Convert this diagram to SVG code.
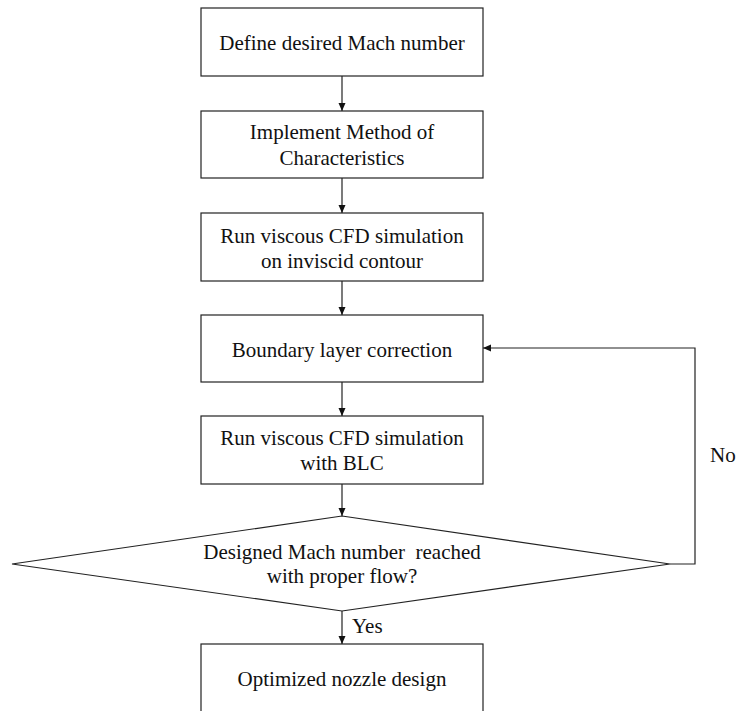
<svg xmlns="http://www.w3.org/2000/svg" width="739" height="711" viewBox="0 0 739 711">
<defs>
<style>
.box{fill:#fff;stroke:#222;stroke-width:1.2}
.t{font-family:"Liberation Serif","Times New Roman",serif;font-size:21px;fill:#111;text-anchor:middle}
.l{font-family:"Liberation Serif","Times New Roman",serif;font-size:21px;fill:#111}
.c{fill:none;stroke:#222;stroke-width:1.2}
</style>
<marker id="ah" markerWidth="8" markerHeight="8" refX="8" refY="4" orient="auto" markerUnits="userSpaceOnUse">
<path d="M0,0.5 L8,4 L0,7.5 Z" fill="#111"/>
</marker>
</defs>
<rect width="739" height="711" fill="#fff"/>
<g id="connectors">
<line class="c" x1="342" y1="76" x2="342" y2="111" marker-end="url(#ah)"/>
<line class="c" x1="342" y1="178" x2="342" y2="213" marker-end="url(#ah)"/>
<line class="c" x1="342" y1="281" x2="342" y2="315" marker-end="url(#ah)"/>
<line class="c" x1="342" y1="382" x2="342" y2="416" marker-end="url(#ah)"/>
<line class="c" x1="342" y1="484" x2="342" y2="516" marker-end="url(#ah)"/>
<line class="c" x1="342" y1="611" x2="342" y2="644" marker-end="url(#ah)"/>
<polyline class="c" points="670,564 695,564 695,348 483,348" marker-end="url(#ah)"/>
<text class="l" x="352" y="633">Yes</text>
<text class="l" x="710" y="462">No</text>
</g>
<g id="n1">
<rect class="box" x="201" y="8" width="282" height="68"/>
<text class="t" x="342" y="50">Define desired Mach number</text>
</g>
<g id="n2">
<rect class="box" x="201" y="111" width="282" height="67"/>
<text class="t" x="342" y="139">Implement Method of</text>
<text class="t" x="342" y="165">Characteristics</text>
</g>
<g id="n3">
<rect class="box" x="201" y="213" width="282" height="68"/>
<text class="t" x="342" y="243">Run viscous CFD simulation</text>
<text class="t" x="342" y="268">on inviscid contour</text>
</g>
<g id="n4">
<rect class="box" x="201" y="315" width="282" height="67"/>
<text class="t" x="342" y="357">Boundary layer correction</text>
</g>
<g id="n5">
<rect class="box" x="201" y="416" width="282" height="68"/>
<text class="t" x="342" y="445">Run viscous CFD simulation</text>
<text class="t" x="342" y="470">with BLC</text>
</g>
<g id="n6">
<polygon class="box" points="342,516 670,564 342,611 12,564"/>
<text class="t" x="342" y="559" xml:space="preserve">Designed Mach number  reached</text>
<text class="t" x="342" y="583">with proper flow?</text>
</g>
<g id="n7">
<rect class="box" x="201" y="644" width="282" height="80"/>
<text class="t" x="342" y="686">Optimized nozzle design</text>
</g>
</svg>
